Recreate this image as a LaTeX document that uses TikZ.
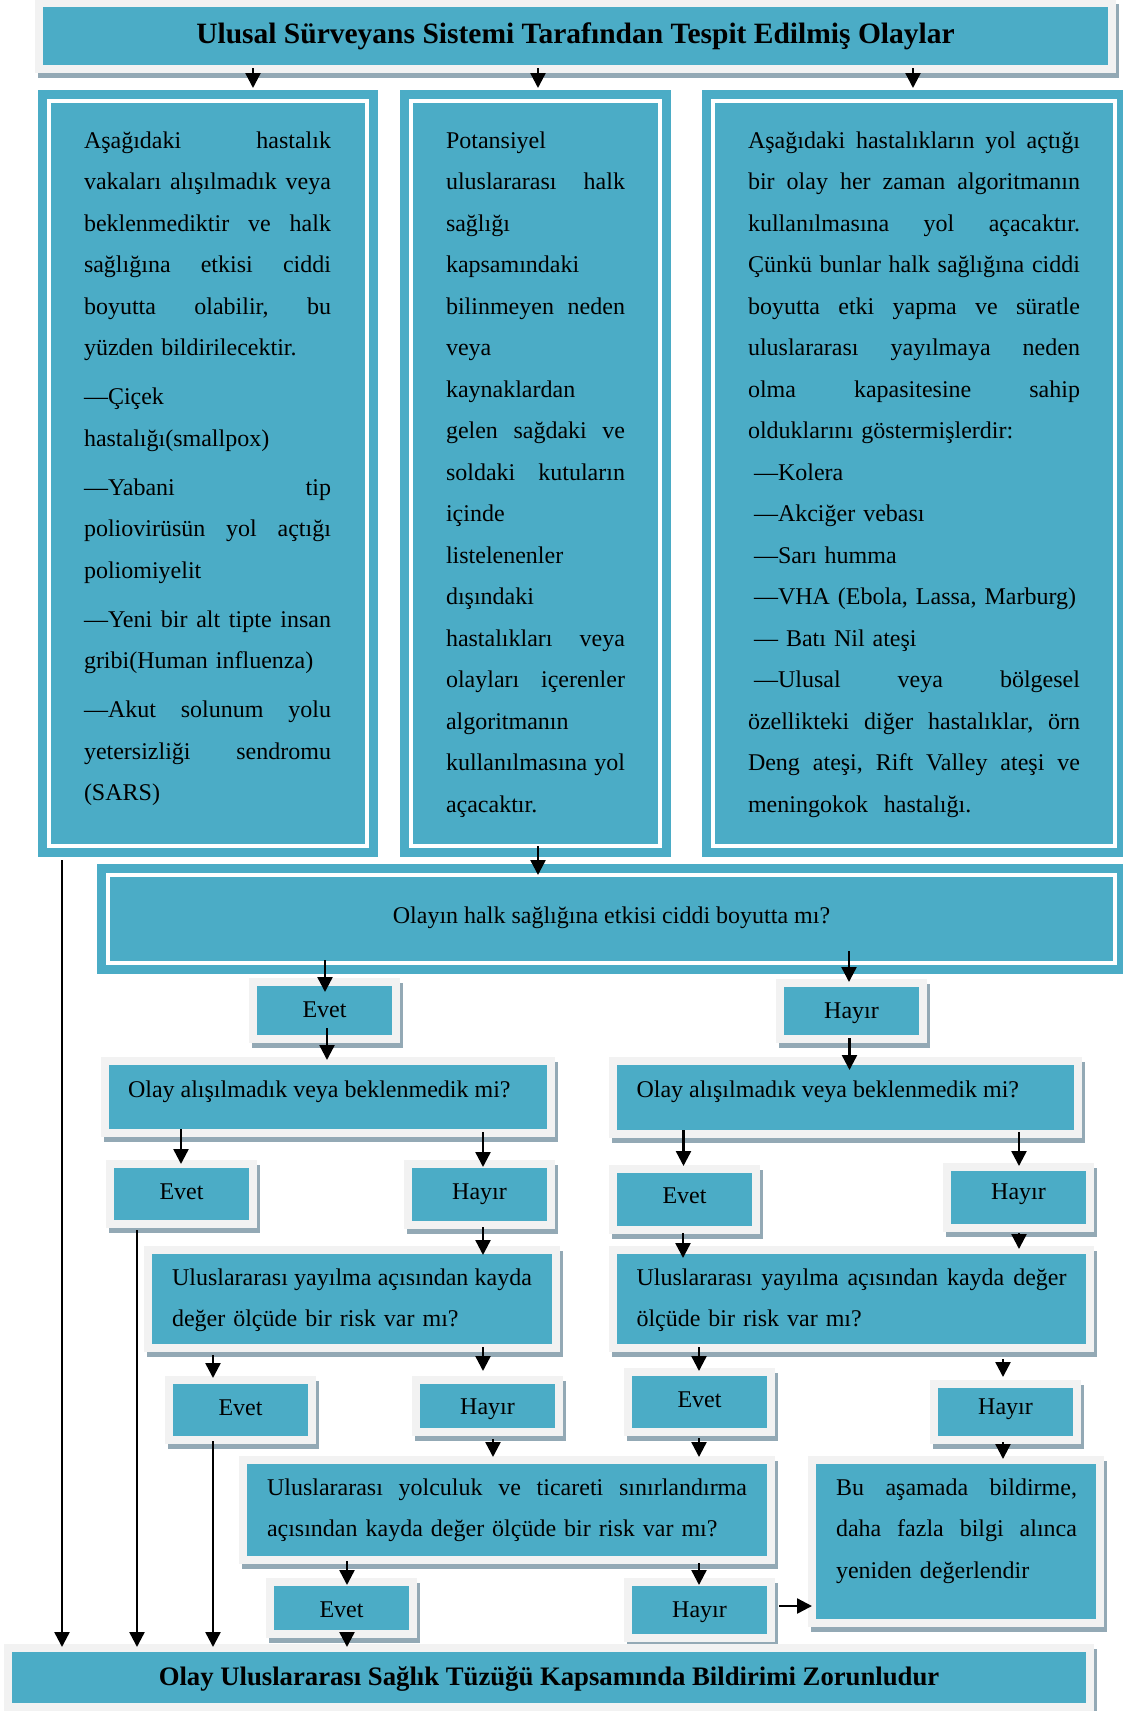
\documentclass[tikz,border=0pt]{standalone}
\usepackage{fontspec}
\setmainfont{Liberation Serif}
\usetikzlibrary{arrows.meta,shadows,calc}

\definecolor{tealfill}{HTML}{4BACC6}
\definecolor{framegray}{HTML}{F2F2F2}
\definecolor{shadowc}{HTML}{93A9B5}

% justified line of width \jw: every interword space stretches equally
\newcommand{\jl}[1]{\leavevmode\hbox to \jw{\frenchspacing\spaceskip=0.25em plus 1fil\relax #1}}
% vertical arrow, x taken from the target node (offset #3), start/tip offsets #4/#5
\newcommand{\arrB}[5]{\draw[arr] ($(#1.south -| #2.north)+(#3,#4)$) -- ($(#2.north)+(#3,#5)$);}
% vertical arrow, x taken from the source node
\newcommand{\arrA}[5]{\draw[arr] ($(#1.south)+(#3,#4)$) -- ($(#1.south |- #2.north)+(#3,#5)$);}

\tikzset{
  wh/.style 2 args={minimum width=#1pt, minimum height=#2pt},
  box/.style={fill=framegray, inner sep=0pt, outer sep=0pt,
    drop shadow={shadow xshift=3pt, shadow yshift=-5pt, fill=shadowc, opacity=1},
    path picture={\fill[tealfill] ([shift={(8pt,-8pt)}]path picture bounding box.north west)
      rectangle ([shift={(-8pt,8pt)}]path picture bounding box.south east);},
    font=\fontsize{24}{41.5}\selectfont, text height=12pt, text depth=0pt},
  dbox/.style={fill=tealfill, inner sep=0pt, outer sep=0pt,
    path picture={\draw[white, line width=4pt] ([shift={(11pt,-11pt)}]path picture bounding box.north west)
      rectangle ([shift={(-11pt,11pt)}]path picture bounding box.south east);}},
  txt/.style={inner sep=0pt, outer sep=0pt, anchor=base west, align=left,
    font=\fontsize{24}{41.5}\selectfont},
  arr/.style={line width=2.4pt, -{Triangle[width=15pt,length=15pt]}},
}

\begin{document}
\begin{tikzpicture}[x=1pt, y=-1pt]
\useasboundingbox (0,0) rectangle (1122,1711);

% heading
\node[box, wh={1081}{74}, text height=14pt, font=\fontsize{29.5}{35}\selectfont\bfseries] (title) at (575.5,36)
  {Ulusal Sürveyans Sistemi Tarafından Tespit Edilmiş Olaylar};

% three framed columns
\node[dbox, wh={340}{767}] (b1) at (208,473.5) {};
\node[dbox, wh={271}{767}] (b2) at (535.5,473.5) {};
\node[dbox, wh={424}{767}] (b3) at (914,473.5) {};

\node[txt, text width=247pt] (t1) at (84,148) {\def\jw{247pt}%
\jl{Aşağıdaki hastalık}\\
\jl{vakaları alışılmadık veya}\\
\jl{beklenmediktir ve halk}\\
\jl{sağlığına etkisi ciddi}\\
\jl{boyutta olabilir, bu}\\
yüzden bildirilecektir.\\[7.6pt]
—Çiçek\\
hastalığı(smallpox)\\[7.6pt]
\jl{—Yabani tip}\\
\jl{poliovirüsün yol açtığı}\\
poliomiyelit\\[7.6pt]
\jl{—Yeni bir alt tipte insan}\\
gribi(Human influenza)\\[7.6pt]
\jl{—Akut solunum yolu}\\
\jl{yetersizliği sendromu}\\
(SARS)};

\node[txt, text width=179pt] (t2) at (446,148) {\def\jw{179pt}%
Potansiyel\\
\jl{uluslararası halk}\\
sağlığı\\
kapsamındaki\\
\jl{bilinmeyen neden}\\
veya\\
kaynaklardan\\
\jl{gelen sağdaki ve}\\
\jl{soldaki kutuların}\\
içinde\\
listelenenler\\
dışındaki\\
\jl{hastalıkları veya}\\
\jl{olayları içerenler}\\
algoritmanın\\
\jl{kullanılmasına yol}\\
açacaktır.};

\node[txt, text width=332pt] (t3) at (748,148) {\def\jw{332pt}%
\jl{Aşağıdaki hastalıkların yol açtığı}\\
\jl{bir olay her zaman algoritmanın}\\
\jl{kullanılmasına yol açacaktır.}\\
\jl{Çünkü bunlar halk sağlığına ciddi}\\
\jl{boyutta etki yapma ve süratle}\\
\jl{uluslararası yayılmaya neden}\\
\jl{olma kapasitesine sahip}\\
olduklarını göstermişlerdir:\\
\hspace*{6pt}—Kolera\\
\hspace*{6pt}—Akciğer vebası\\
\hspace*{6pt}—Sarı humma\\
\hspace*{6pt}—VHA (Ebola, Lassa, Marburg)\\
\hspace*{6pt}— Batı Nil ateşi\\
\hspace*{6pt}{\def\jw{326pt}\jl{—Ulusal veya bölgesel}}\\
\jl{özellikteki diğer hastalıklar, örn}\\
\jl{Deng ateşi, Rift Valley ateşi ve}\\
meningokok\ \ hastalığı.};

% first question
\node[dbox, wh={1029}{110}, font=\fontsize{24}{41.5}\selectfont, text height=8pt, text depth=0pt] (olay) at (611.5,919)
  {Olayın halk sağlığına etkisi ciddi boyutta mı?};

% answers and further questions
\node[box, wh={151}{65}, text height=13pt] (e1) at (324.5,1010.5) {Evet};
\node[box, wh={151}{64}, text height=14pt] (h1) at (851.5,1011) {Hayır};

\node[box, wh={454}{80}] (q2l) at (328,1097) {};
\node[box, wh={473}{81}] (q2r) at (845.5,1097.5) {};
\node[txt] (q2lt) at (128,1097) {Olay alışılmadık veya beklenmedik mi?};
\node[txt] (q2rt) at (636.5,1097.5) {Olay alışılmadık veya beklenmedik mi?};

\node[box, wh={151}{68}, text height=10pt] (e2l) at (181.5,1194) {Evet};
\node[box, wh={151}{69}, text height=9pt] (h2l) at (479.5,1194.5) {Hayır};
\node[box, wh={151}{69}, text height=7pt] (e2r) at (684.5,1199.5) {Evet};
\node[box, wh={151}{69}, text height=3pt] (h2r) at (1018.5,1197.5) {Hayır};

\node[box, wh={416}{106}] (q3l) at (352,1299) {};
\node[box, wh={485}{106}] (q3r) at (851.5,1299) {};
\node[txt, text width=360pt] (q3lt) at (172,1285)
  {\def\jw{360pt}\jl{Uluslararası yayılma açısından kayda}\\değer ölçüde bir risk var mı?};
\node[txt, text width=430pt] (q3rt) at (636.5,1285)
  {\def\jw{430pt}\jl{Uluslararası yayılma açısından kayda değer}\\ölçüde bir risk var mı?};

\node[box, wh={151}{68}, text height=10pt] (e3l) at (240.5,1410) {Evet};
\node[box, wh={151}{60}, text height=16pt] (h3l) at (487.5,1406) {Hayır};
\node[box, wh={151}{68}, text height=10pt] (e3r) at (699.5,1402) {Evet};
\node[box, wh={151}{64}, text height=4pt] (h3r) at (1005.5,1412) {Hayır};

\node[box, wh={536}{108}] (q4) at (507,1510) {};
\node[txt, text width=480pt] (q4t) at (267,1495)
  {\def\jw{480pt}\jl{Uluslararası yolculuk ve ticareti sınırlandırma}\\açısından kayda değer ölçüde bir risk var mı?};

\node[box, wh={296}{171}] (bu) at (956,1541.5) {};
\node[txt, text width=241pt] (but) at (836,1495)
  {\def\jw{241pt}\jl{Bu aşamada bildirme,}\\\jl{daha fazla bilgi alınca}\\yeniden değerlendir};

\node[box, wh={151}{60}, text height=18pt] (e4) at (341.5,1608) {Evet};
\node[box, wh={151}{64}, text height=14pt] (h4) at (699.5,1610) {Hayır};

% conclusion
\node[box, wh={1090}{67}, text height=15pt, font=\fontsize{26.7}{32}\selectfont\bfseries] (bottom) at (549,1677.5)
  {Olay Uluslararası Sağlık Tüzüğü Kapsamında Bildirimi Zorunludur};

% connectors
\arrB{title}{b1}{45}{-5}{-2}
\arrB{title}{b2}{2.5}{-5}{-2}
\arrB{title}{b3}{-1}{-5}{-2}
\arrA{b2}{olay}{2.5}{-11}{11}
\arrB{olay}{e1}{0.5}{-14}{14}
\arrB{olay}{h1}{-2.5}{-23}{3}
\arrA{e1}{q2l}{2.5}{-15}{3}
\arrA{h1}{q2r}{-2}{-5}{13}
\arrB{q2l}{e2l}{-0.5}{-8}{4}
\arrB{q2l}{h2l}{3.5}{-5}{7}
\arrB{q2r}{e2r}{-1}{-8}{1}
\arrB{q2r}{h2r}{0.5}{-6}{3}
\arrA{h2l}{q3l}{3.5}{-2}{9}
\arrA{e2r}{q3r}{-1.5}{-1}{12}
\arrA{h2r}{q3r}{0.5}{1}{3}
\arrB{q3l}{e3l}{-27.5}{3}{2}
\arrB{q3l}{h3l}{-4.5}{-5}{-5}
\arrB{q3r}{e3r}{-0.5}{-5}{3}
\arrB{q3r}{h3r}{-2.5}{7}{-3}
\arrA{h3l}{q4}{5.5}{3}{1}
\arrA{e3r}{q4}{-0.5}{2}{1}
\arrA{h3r}{bu}{-2.5}{-2}{3}
\arrB{q4}{e4}{5.5}{-3}{7}
\arrB{q4}{h4}{-0.5}{-1}{7}
\arrA{e4}{bottom}{5.5}{-6}{3}
\draw[arr] ($(h4.east)+(4,-4)$) -- ($(h4.east -| bu.west)+(4,-4)$);
\arrA{b1}{bottom}{-146}{3}{3}
\arrA{e2l}{bottom}{-44.5}{2}{3}
\arrA{e3l}{bottom}{-27.5}{-3}{3}
\end{tikzpicture}
\end{document}
